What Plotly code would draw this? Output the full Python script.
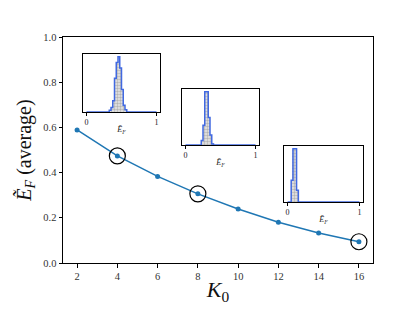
import plotly.graph_objects as go

# main series
K0 = [2, 4, 6, 8, 10, 12, 14, 16]
EF_avg = [0.589, 0.474, 0.383, 0.306, 0.239, 0.180, 0.133, 0.094]
highlight_K0 = [4, 8, 16]
highlight_EF = [0.474, 0.306, 0.094]

x_ticks = [2, 4, 6, 8, 10, 12, 14, 16]
y_ticks = [0.0, 0.2, 0.4, 0.6, 0.8, 1.0]
y_ticklabels = ["0.0", "0.2", "0.4", "0.6", "0.8", "1.0"]

# inset histograms (bin width 0.025 over [0, 1]); relative counts
bin_width = 0.025
hist1_start = [0.325, 0.35, 0.375, 0.40, 0.425, 0.45, 0.475, 0.50, 0.525, 0.55]
hist1_h = [0.03, 0.08, 0.20, 0.60, 0.88, 0.98, 0.78, 0.40, 0.12, 0.04]
hist2_start = [0.225, 0.25, 0.275, 0.30, 0.325, 0.35, 0.375]
hist2_h = [0.08, 0.36, 0.97, 0.97, 0.50, 0.18, 0.02]
hist3_start = [0.05, 0.075, 0.10, 0.125]
hist3_h = [0.39, 0.96, 0.96, 0.21]

# page body has an 8px default margin, compensate
OFF = 8
W, H = 415 - OFF, 311 - OFF
ref_l, ref_r, ref_t, ref_b = 63, 373, 37, 263   # plot area in reference pixels
ml, mt = ref_l - OFF, ref_t - OFF
pw, ph = ref_r - ref_l, ref_b - ref_t
mr, mb = W - ml - pw, H - mt - ph

def px_dom_x(a, b):
    return [(a - ref_l) / pw, (b - ref_l) / pw]

def px_dom_y(top, bot):
    return [(ref_b - bot) / ph, (ref_b - top) / ph]

insets = [
    (hist1_start, hist1_h, px_dom_x(83, 160), px_dom_y(54, 112)),
    (hist2_start, hist2_h, px_dom_x(182, 259), px_dom_y(89, 145)),
    (hist3_start, hist3_h, px_dom_x(284, 363), px_dom_y(146, 202)),
]

FONT = "Liberation Serif"
fig = go.Figure()

fig.add_trace(go.Scatter(x=K0, y=EF_avg, mode="lines+markers",
                         line=dict(color="#1f77b4", width=1.5),
                         marker=dict(color="#1f77b4", size=5),
                         showlegend=False))
fig.add_trace(go.Scatter(x=highlight_K0, y=highlight_EF, mode="markers",
                         marker=dict(symbol="circle-open", size=16,
                                     color="black", line=dict(width=1.2)),
                         showlegend=False))

layout_axes = {}
for i, (starts, hs, dx, dy) in enumerate(insets, start=2):
    xa, ya = f"x{i}", f"y{i}"
    centers = [s + bin_width / 2 for s in starts]
    fig.add_trace(go.Bar(x=centers, y=hs, width=bin_width, xaxis=xa, yaxis=ya,
                         marker=dict(color="#d0d0d0", line=dict(width=0),
                                     pattern=dict(shape=".", fgcolor="#808080",
                                                  bgcolor="#e8e8e8", size=3,
                                                  solidity=0.5)),
                         showlegend=False))
    # envelope step outline over [0, 1]
    sx, sy = [0.0], [0.0]
    end, prevh = 0.0, 0.0
    for s, h in zip(starts, hs):
        if s > end + 1e-9 and prevh != 0:
            sx.append(end); sy.append(0.0); prevh = 0.0
        sx += [s, s, s + bin_width]
        sy += [prevh, h, h]
        end, prevh = s + bin_width, h
    sx += [end, 1.0]
    sy += [0.0, 0.0]
    fig.add_trace(go.Scatter(x=sx, y=sy, mode="lines", xaxis=xa, yaxis=ya,
                             line=dict(color="#4169e1", width=1.5),
                             showlegend=False))
    layout_axes[f"xaxis{i}"] = dict(domain=dx, anchor=ya, range=[-0.05, 1.05],
                                    automargin=False,
                                    tickvals=[0, 1], ticktext=["0", "1"],
                                    ticks="outside", ticklen=2.5, tickwidth=0.8,
                                    tickcolor="black",
                                    tickfont=dict(family=FONT, size=8, color="#222"),
                                    showline=True, linecolor="black", linewidth=1,
                                    mirror=True, showgrid=False, zeroline=False,
                                    title=dict(text="<i>Ẽ</i><sub><i>F</i></sub>",
                                               font=dict(family=FONT, size=8, color="#222"),
                                               standoff=0))
    layout_axes[f"yaxis{i}"] = dict(domain=dy, anchor=xa, automargin=False,
                                    range=[0, max(hs) * 1.05],
                                    showticklabels=False, ticks="",
                                    showline=True, linecolor="black", linewidth=1,
                                    mirror=True, showgrid=False, zeroline=False)

fig.update_layout(
    width=W, height=H,
    margin=dict(l=ml, r=mr, t=mt, b=mb, pad=0),
    paper_bgcolor="white", plot_bgcolor="white",
    bargap=0,
    font=dict(family=FONT, color="#222"),
    xaxis=dict(range=[1.3, 16.7], tickvals=x_ticks, ticks="outside",
               automargin=False,
               ticklen=3.5, tickwidth=0.8, tickcolor="black",
               tickfont=dict(family=FONT, size=10.5, color="#333"),
               showline=True, linecolor="black", linewidth=1, mirror=True,
               showgrid=False, zeroline=False,
               title=dict(text="<i>K</i><sub>0</sub>",
                          font=dict(family=FONT, size=22, color="#111"),
                          standoff=0)),
    yaxis=dict(range=[0, 1], tickvals=y_ticks, ticktext=y_ticklabels,
               automargin=False,
               ticks="outside", ticklen=3.5, tickwidth=0.8, tickcolor="black",
               tickfont=dict(family=FONT, size=10.5, color="#333"),
               showline=True, linecolor="black", linewidth=1, mirror=True,
               showgrid=False, zeroline=False,
               title=dict(text="<i>Ẽ</i><sub><i>F</i></sub> (average)",
                          font=dict(family=FONT, size=20, color="#111"),
                          standoff=6)),
    **layout_axes,
)

fig.write_html("out.html")
